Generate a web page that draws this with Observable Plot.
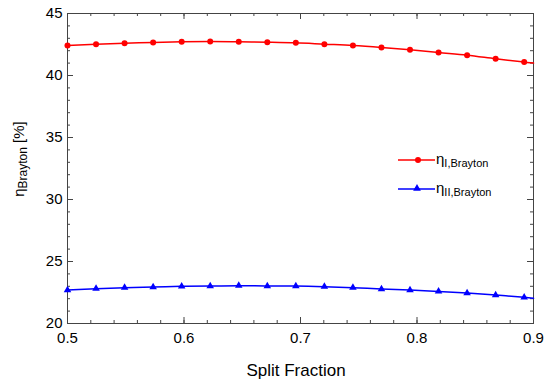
<!DOCTYPE html>
<html><head><meta charset="utf-8">
<script src="https://cdn.jsdelivr.net/npm/d3@7"></script>
<script src="https://cdn.jsdelivr.net/npm/@observablehq/plot@0.6"></script>
<style>
body{margin:0;background:#fff;}
#chart{position:relative;width:550px;height:386px;font-family:"Liberation Sans",Arial,sans-serif;}
</style></head><body><div id="chart"></div>
<script>
const splitFraction = [0.5, 0.5245, 0.549, 0.5735, 0.598, 0.6225, 0.647, 0.6715, 0.696, 0.7205, 0.745, 0.7695, 0.794, 0.8185, 0.843, 0.8675, 0.892, 0.9];
const hasMarker = [1,1,1,1,1,1,1,1,1,1,1,1,1,1,1,1,1,0];
const etaI  = [42.42, 42.52, 42.60, 42.66, 42.72, 42.74, 42.72, 42.69, 42.64, 42.53, 42.42, 42.26, 42.07, 41.85, 41.64, 41.35, 41.08, 41.00];
const etaII = [22.70, 22.81, 22.89, 22.94, 23.00, 23.02, 23.05, 23.02, 23.02, 22.97, 22.89, 22.78, 22.70, 22.59, 22.46, 22.30, 22.11, 22.03];
const xTicks = [0.5, 0.6, 0.7, 0.8, 0.9];
const yTicks = [20, 25, 30, 35, 40, 45];
const xLabel = "Split Fraction";
const seriesNames = ["I,Brayton", "II,Brayton"];
const colors = ["#f00", "#00f"];

const W = 550, H = 386, mL = 67, mR = 17, mT = 13, mB = 63;
const pW = W - mL - mR, pH = H - mT - mB;

const xMinor = d3.range(0, 21).map(i => 0.5 + i * 0.02);
const yMinor = d3.range(20, 46);

const dataI = splitFraction.map((x, i) => ({x, y: etaI[i], m: hasMarker[i]}));
const dataII = splitFraction.map((x, i) => ({x, y: etaII[i], m: hasMarker[i]}));

const tickLen = 6, minorLen = 3;
const plot = Plot.plot({
  width: W, height: H,
  marginLeft: mL, marginRight: mR, marginTop: mT, marginBottom: mB,
  style: {fontFamily: '"Liberation Sans", Arial, sans-serif', fontSize: "15px", color: "#000", background: "#fff"},
  x: {domain: [0.5, 0.9]},
  y: {domain: [20, 45]},
  marks: [
    Plot.ruleX(xMinor, {x: d => d, insetTop: pH - minorLen, stroke: "#444"}),
    Plot.ruleX(xMinor, {x: d => d, insetBottom: pH - minorLen, stroke: "#444"}),
    Plot.ruleY(yMinor, {y: d => d, insetRight: pW - minorLen, stroke: "#444"}),
    Plot.ruleY(yMinor, {y: d => d, insetLeft: pW - minorLen, stroke: "#444"}),
    Plot.ruleX(xTicks, {x: d => d, insetTop: pH - tickLen, stroke: "#444"}),
    Plot.ruleX(xTicks, {x: d => d, insetBottom: pH - tickLen, stroke: "#444"}),
    Plot.ruleY(yTicks, {y: d => d, insetRight: pW - tickLen, stroke: "#444"}),
    Plot.ruleY(yTicks, {y: d => d, insetLeft: pW - tickLen, stroke: "#444"}),
    Plot.axisX({ticks: xTicks, tickSize: 0, tickPadding: 9, label: null, tickFormat: d => d.toFixed(1)}),
    Plot.axisY({ticks: yTicks, tickSize: 0, tickPadding: 5, label: null}),
    Plot.frame({stroke: "#444"}),
    Plot.line(dataI, {x: "x", y: "y", stroke: colors[0], strokeWidth: 1.5, curve: "catmull-rom"}),
    Plot.dot(dataI.filter(d => d.m), {x: "x", y: "y", fill: colors[0], r: 3, symbol: "circle"}),
    Plot.line(dataII, {x: "x", y: "y", stroke: colors[1], strokeWidth: 1.5, curve: "catmull-rom"}),
    Plot.dot(dataII.filter(d => d.m), {x: "x", y: "y", fill: colors[1], r: 2.8, symbol: "triangle"})
  ]
});

const svg = d3.select(plot);
svg.append("text").attr("x", 296).attr("y", 376).attr("text-anchor", "middle")
  .attr("font-size", 17).attr("fill", "#000").text(xLabel);
const yt = svg.append("text").attr("transform", "translate(24,159) rotate(-90)")
  .attr("text-anchor", "middle").attr("font-size", 15).attr("fill", "#000");
yt.append("tspan").text("η");
yt.append("tspan").attr("font-size", 12).attr("dy", 3).text("Brayton");
yt.append("tspan").attr("dy", -3).text(" [%]");

const legendY = [160, 189];
[0, 1].forEach(i => {
  const g = svg.append("g");
  g.append("line").attr("x1", 398).attr("x2", 435).attr("y1", legendY[i]).attr("y2", legendY[i])
    .attr("stroke", colors[i]).attr("stroke-width", 1.5);
  if (i === 0) g.append("circle").attr("cx", 418).attr("cy", legendY[i]).attr("r", 3).attr("fill", colors[i]);
  else g.append("path").attr("transform", `translate(417,${legendY[i] - 0.5})`).attr("d", d3.symbol(d3.symbolTriangle, 26)()).attr("fill", colors[i]);
  const t = g.append("text").attr("x", 436).attr("y", legendY[i] + 4).attr("font-size", 15)
    .attr("text-anchor", "start").attr("fill", "#000");
  t.append("tspan").text("η");
  t.append("tspan").attr("font-size", 11).attr("dy", 3).text(seriesNames[i]);
});

document.getElementById("chart").appendChild(plot);
</script></body></html>
